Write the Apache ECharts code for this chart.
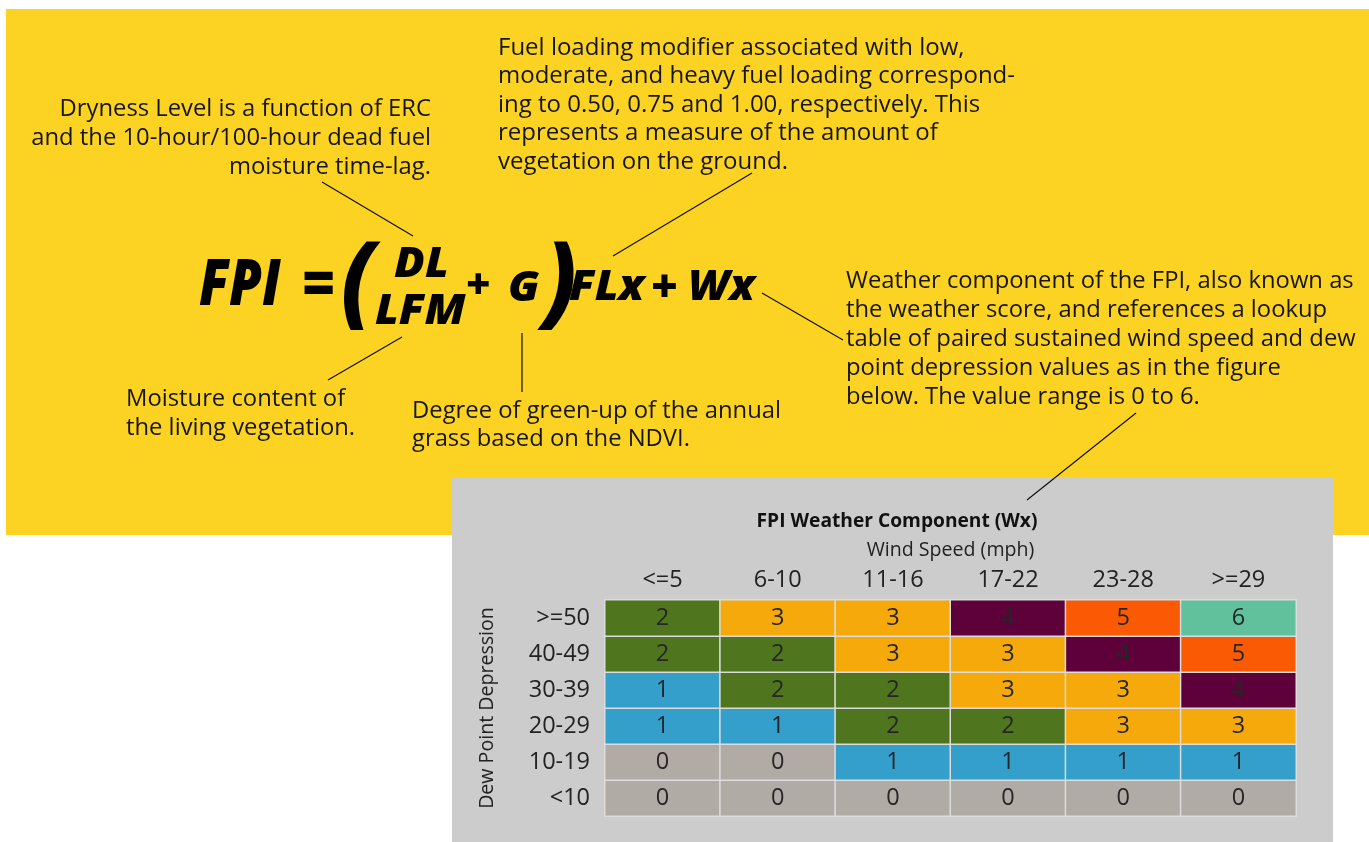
<!DOCTYPE html>
<html>
<head>
<meta charset="utf-8">
<script src="https://cdn.jsdelivr.net/npm/echarts@6/dist/echarts.min.js"></script>
<style>
html,body{margin:0;padding:0;background:#fff;}
#c{width:1369px;height:842px;}
</style>
</head>
<body>
<div id="c"></div>
<script>
// ---- data ----
const windSpeeds = ['<=5', '6-10', '11-16', '17-22', '23-28', '>=29'];
const dewDepressions = ['<10', '10-19', '20-29', '30-39', '40-49', '>=50']; // bottom to top
const wxRow_lt10   = [0, 0, 0, 0, 0, 0];
const wxRow_10_19  = [0, 0, 1, 1, 1, 1];
const wxRow_20_29  = [1, 1, 2, 2, 3, 3];
const wxRow_30_39  = [1, 2, 2, 3, 3, 4];
const wxRow_40_49  = [2, 2, 3, 3, 4, 5];
const wxRow_ge50   = [2, 3, 3, 4, 5, 6];
const wxRows = [wxRow_lt10, wxRow_10_19, wxRow_20_29, wxRow_30_39, wxRow_40_49, wxRow_ge50];
const wxColors = ['#b0aba5', '#349fcb', '#4f751e', '#f6a90b', '#5e003a', '#fb5a04', '#60c19c'];

const heatData = [];
wxRows.forEach((row, yi) => row.forEach((v, xi) => heatData.push([xi, yi, v])));

const FONT = '"Open Sans", "Noto Sans", sans-serif';
const TXT = '#161616';

function para(lines, x, y, align, lh, size) {
  return lines.map((t, i) => ({
    type: 'text', z: 50,
    style: { text: t, x: x, y: y + i * lh, fill: TXT, font: size + 'px ' + FONT,
      textAlign: align, textVerticalAlign: 'middle' }
  }));
}
function formulaText(t, x, y, size, sx) {
  return { type: 'text', z: 50, x: x, y: y, scaleX: sx,
    style: { text: t, x: 0, y: 0, fill: '#000', font: 'italic 800 ' + size + 'px ' + FONT,
      textAlign: 'left', textVerticalAlign: 'middle' } };
}
function line(x1, y1, x2, y2) {
  return { type: 'line', z: 50, shape: { x1, y1, x2, y2 }, style: { stroke: '#111', lineWidth: 1.2 } };
}

const graphics = [
  { type: 'rect', z: -20, shape: { x: 6, y: 9, width: 1363, height: 526 }, style: { fill: '#fdd323' } },
  { type: 'rect', z: -10, shape: { x: 452, y: 477, width: 881, height: 365 }, style: { fill: '#cccccc' } },
  ...para(['Dryness Level is a function of ERC', 'and the 10-hour/100-hour dead fuel', 'moisture time-lag.'], 431, 109, 'right', 29, 23.8),
  ...para(['Fuel loading modifier associated with low,', 'moderate, and heavy fuel loading correspond-', 'ing to 0.50, 0.75 and 1.00, respectively. This', 'represents a measure of the amount of', 'vegetation on the ground.'], 498, 48, 'left', 28.5, 24),
  ...para(['Weather component of the FPI, also known as', 'the weather score, and references a lookup', 'table of paired sustained wind speed and dew', 'point depression values as in the figure', 'below. The value range is 0 to 6.'], 846, 281, 'left', 29, 23.8),
  ...para(['Moisture content of', 'the living vegetation.'], 126, 399, 'left', 29, 23.8),
  ...para(['Degree of green-up of the annual', 'grass based on the NDVI.'], 412, 411, 'left', 28, 23.8),
  formulaText('FPI', 199, 287, 63, 0.84),
  formulaText('=', 302, 287, 63, 0.9),
  formulaText('(', 341, 286, 100, 0.9),
  formulaText('DL', 394, 265, 43, 1.05),
  formulaText('LFM', 375, 312, 43, 1.05),
  formulaText('+', 466, 287, 42, 1.0),
  formulaText('G', 508, 289, 43, 1.05),
  formulaText(')', 543, 286, 100, 0.9),
  formulaText('FLx', 569, 288, 43, 1.05),
  formulaText('+', 651, 289, 46, 1.0),
  formulaText('Wx', 688, 288, 43, 1.03),
  line(322, 182, 413, 236),
  line(752, 173, 613, 256),
  line(762, 293, 843, 340),
  line(402, 337, 328, 380),
  line(522, 333, 522, 392),
  line(1136, 413, 1027, 500)
];

const chart = echarts.init(document.getElementById('c'));
chart.setOption({
  backgroundColor: '#ffffff',
  animation: false,
  textStyle: { fontFamily: FONT },
  title: {
    text: 'FPI Weather Component (Wx)', left: 892, top: 507, textAlign: 'center',
    textStyle: { fontFamily: FONT, fontSize: 19.2, fontWeight: 'bold', color: '#111' }
  },
  graphic: graphics,
  grid: { left: 605, top: 600, width: 691, height: 216 },
  xAxis: {
    type: 'category', position: 'top', data: windSpeeds,
    axisLine: { show: false }, axisTick: { show: false }, splitLine: { show: false },
    axisLabel: { fontSize: 23.5, color: '#222', margin: 8, fontFamily: FONT },
    name: 'Wind Speed (mph)', nameLocation: 'middle', nameGap: 40,
    nameTextStyle: { fontSize: 19.6, color: '#222', fontFamily: FONT }
  },
  yAxis: {
    type: 'category', data: dewDepressions,
    axisLine: { show: false }, axisTick: { show: false }, splitLine: { show: false },
    axisLabel: { fontSize: 23.5, color: '#222', margin: 15, fontFamily: FONT },
    name: 'Dew Point Depression', nameLocation: 'middle', nameGap: 108, nameRotate: 90,
    nameTextStyle: { fontSize: 19.6, color: '#222', fontFamily: FONT }
  },
  visualMap: {
    show: false, type: 'piecewise', dimension: 2,
    pieces: wxColors.map((c, i) => ({ value: i, color: c }))
  },
  series: [{
    type: 'heatmap', data: heatData,
    label: { show: true, fontSize: 23.5, color: '#262626', fontFamily: FONT,
      formatter: p => p.value[2] },
    itemStyle: { borderColor: '#dcdcdc', borderWidth: 1.5 },
    emphasis: { disabled: true }
  }]
});
</script>
</body>
</html>
